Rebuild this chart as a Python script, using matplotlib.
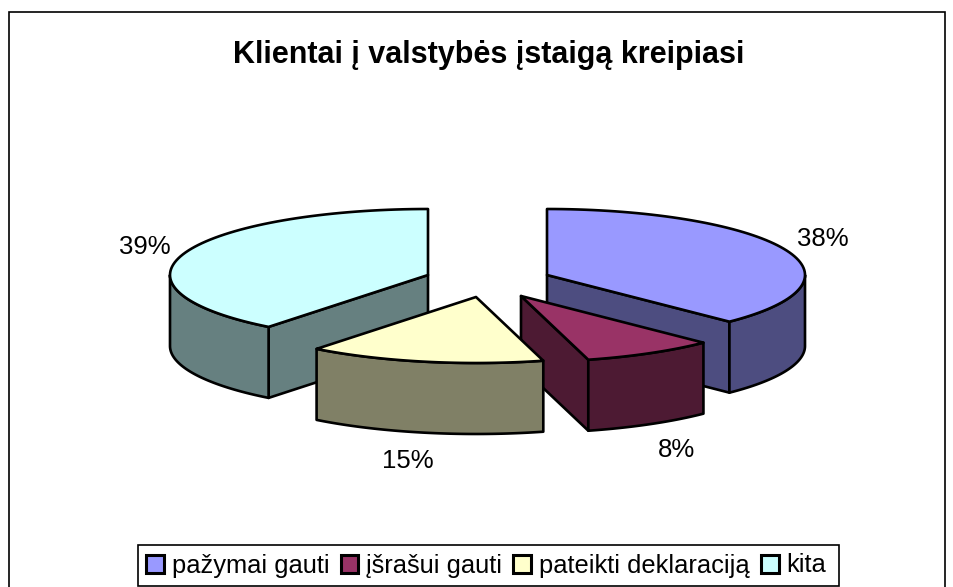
import numpy as np
import matplotlib
matplotlib.use("Agg")
import matplotlib.pyplot as plt
from matplotlib.patches import Patch, Polygon, Rectangle

plt.rcParams['font.family'] = ['Liberation Sans', 'DejaVu Sans']

title = "Klientai į valstybės įstaigą kreipiasi"
categories = ["pažymai gauti", "įšrašui gauti", "pateikti deklaraciją", "kita"]
values = [37.5, 8.3, 14.8, 39.4]
colors = ["#9999FF", "#993366", "#FFFFCC", "#CCFFFF"]
side_colors = ["#4D4D80", "#4D1A33", "#808066", "#668080"]

# where each exploded slice has its tip, and where its label sits (pixels)
tips = [(547, 275), (521, 296), (476, 297), (428, 275)]
label_pos = [(823, 239), (677, 450), (408, 461), (145, 247)]
draw_order = [3, 0, 1, 2]

rx = 258
ry = 66
depth = 71
lw = 1.9


def rim(tip, a, b):
    # angles in degrees, clockwise from the top of the ellipse
    t = np.radians(np.linspace(a, b, 80))
    return np.column_stack((tip[0] + rx * np.sin(t), tip[1] - ry * np.cos(t)))


def face(ax, pts, color, z):
    ax.add_patch(Polygon(pts, closed=True, facecolor=color, edgecolor="black",
                         linewidth=lw, joinstyle="round", zorder=z))


fig = plt.figure(figsize=(9.54, 5.87), dpi=100)
ax = fig.add_axes([0, 0, 1, 1])
ax.set_xlim(0, 954)
ax.set_ylim(587, 0)
ax.axis("off")

ax.add_patch(Rectangle((9, 12), 936, 600, facecolor="white", edgecolor="black", linewidth=1.2, zorder=0))

ends = np.cumsum(values) * 360.0 / sum(values)
starts = np.concatenate(([0], ends[:-1]))

for z, i in enumerate(draw_order):
    z = z + 1
    tip = np.array(tips[i], dtype=float)
    a, b = starts[i], ends[i]
    down = np.array([0, depth])

    # cut faces, only the ones turned to the viewer
    for ang, visible in ((a, np.sin(np.radians(a)) < -1e-6), (b, np.sin(np.radians(b)) > 1e-6)):
        if visible:
            p = rim(tip, ang, ang)[0]
            face(ax, [tip, p, p + down, tip + down], side_colors[i], z)

    # outer wall, front half of the ellipse only
    lo, hi = max(a, 90), min(b, 270)
    if lo < hi:
        arc = rim(tip, lo, hi)
        face(ax, np.vstack((arc, arc[::-1] + down)), side_colors[i], z)

    face(ax, np.vstack((tip, rim(tip, a, b))), colors[i], z)

for v, (x, y) in zip(values, label_pos):
    ax.text(x, y, f"{v:.0f}%", fontsize=18.5, ha="center", va="center", zorder=10)

ax.text(489, 55, title, fontsize=22, fontweight="bold", ha="center", va="center", zorder=10)

# legend box drawn by hand, the reference has more room on the right than on the left
ax.add_patch(Rectangle((138, 545), 701, 41, facecolor="white", edgecolor="black", linewidth=1.2, zorder=9))
handles = [Patch(facecolor=c, edgecolor="black", linewidth=2.2) for c in colors]
leg = ax.legend(handles, categories, ncol=4, loc="center left", bbox_to_anchor=(138.5 / 954, 1 - 565.5 / 587),
                fontsize=18.4, frameon=False,
                handlelength=0.7, handleheight=0.7, handletextpad=0.3, columnspacing=0.44,
                borderpad=0.3, borderaxespad=0)
leg.set_zorder(10)

fig.savefig("out.png", dpi=100)
